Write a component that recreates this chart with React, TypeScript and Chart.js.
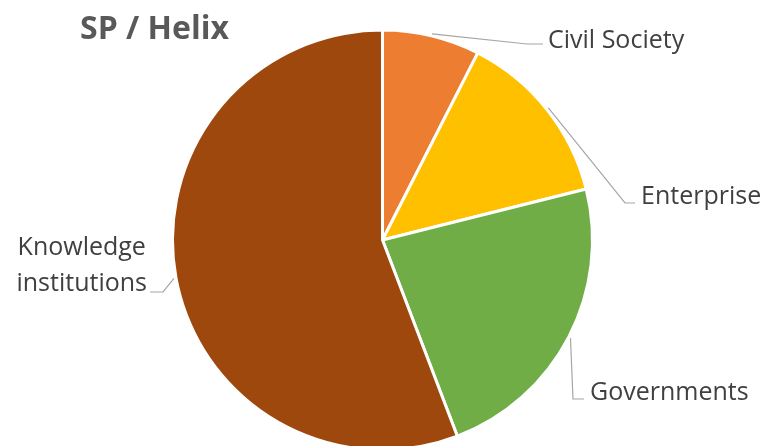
import React, { useEffect, useRef } from "react";
import { Chart, registerables } from "chart.js";

Chart.register(...registerables);

const categories = ["Civil Society", "Enterprise", "Governments", "Knowledge institutions"];
const shares = [7.5, 13.6, 23.1, 55.8];
const colors = ["#ED7D31", "#FFC000", "#70AD47", "#9E480E"];
const titleText = "SP / Helix";

// label layout: elbow point, end of leader, text anchor (canvas px)
const labelLayout = [
  { elbow: [527, 44], end: [543, 44], text: [548, 48], align: "left", lines: ["Civil Society"] },
  { elbow: [625, 203], end: [635, 203], text: [641, 204], align: "left", lines: ["Enterprise"] },
  { elbow: [573, 399], end: [584, 399], text: [590, 400], align: "left", lines: ["Governments"] },
  { elbow: [163, 292], end: [150, 292], text: [147, 291], align: "right", lines: ["Knowledge", "institutions"] },
];

const labelPlugin = {
  id: "leaderLabels",
  afterDraw(chart: any) {
    const ctx = chart.ctx as CanvasRenderingContext2D;
    const meta = chart.getDatasetMeta(0);
    ctx.save();
    // title
    ctx.font = "bold 32px 'Open Sans'";
    ctx.fillStyle = "#595959";
    ctx.textAlign = "left";
    ctx.textBaseline = "alphabetic";
    ctx.fillText(titleText, 80, 39);

    meta.data.forEach((arc: any, i: number) => {
      const p = arc.getProps(["x", "y", "startAngle", "endAngle", "outerRadius"], true);
      const mid = (p.startAngle + p.endAngle) / 2;
      const sx = p.x + Math.cos(mid) * (p.outerRadius + 2);
      const sy = p.y + Math.sin(mid) * (p.outerRadius + 2);
      const L = labelLayout[i];
      ctx.strokeStyle = "#A6A6A6";
      ctx.lineWidth = 1.2;
      ctx.beginPath();
      ctx.moveTo(sx, sy);
      ctx.lineTo(L.elbow[0], L.elbow[1]);
      ctx.lineTo(L.end[0], L.end[1]);
      ctx.stroke();

      ctx.font = "25px 'Open Sans'";
      ctx.fillStyle = "#404040";
      ctx.textBaseline = "alphabetic";
      const lineH = 36;
      const n = L.lines.length;
      L.lines.forEach((t: string, k: number) => {
        const y = L.text[1] - (n - 1 - k) * lineH;
        if (L.align === "right") {
          const widths = L.lines.map((s: string) => ctx.measureText(s).width);
          const maxW = Math.max(...widths);
          ctx.textAlign = "center";
          ctx.fillText(t, L.text[0] - maxW / 2, y);
        } else {
          ctx.textAlign = "left";
          ctx.fillText(t, L.text[0], y);
        }
      });
    });
    ctx.restore();
  },
};

export default function App() {
  const ref = useRef<HTMLCanvasElement | null>(null);
  useEffect(() => {
    document.body.style.margin = "0";
    const canvas = ref.current!;
    const chart = new Chart(canvas, {
      type: "pie",
      data: {
        labels: categories,
        datasets: [
          {
            data: shares,
            backgroundColor: colors,
            borderColor: "#FFFFFF",
            borderWidth: 3,
          },
        ],
      },
      options: {
        responsive: false,
        animation: false,
        events: [],
        layout: { padding: { top: 28.5, bottom: 0.5, left: 0, right: 0 } },
        plugins: {
          legend: { display: false },
          tooltip: { enabled: false },
          title: { display: false },
        },
      },
      plugins: [labelPlugin],
    });
    return () => chart.destroy();
  }, []);
  return (
    <div
      style={{
        position: "fixed",
        left: 0,
        top: 0,
        width: 765,
        height: 446,
        overflow: "hidden",
        background: "#FFFFFF",
      }}
    >
      <canvas ref={ref} width={765} height={452} style={{ width: 765, height: 452, display: "block" }} />
    </div>
  );
}
